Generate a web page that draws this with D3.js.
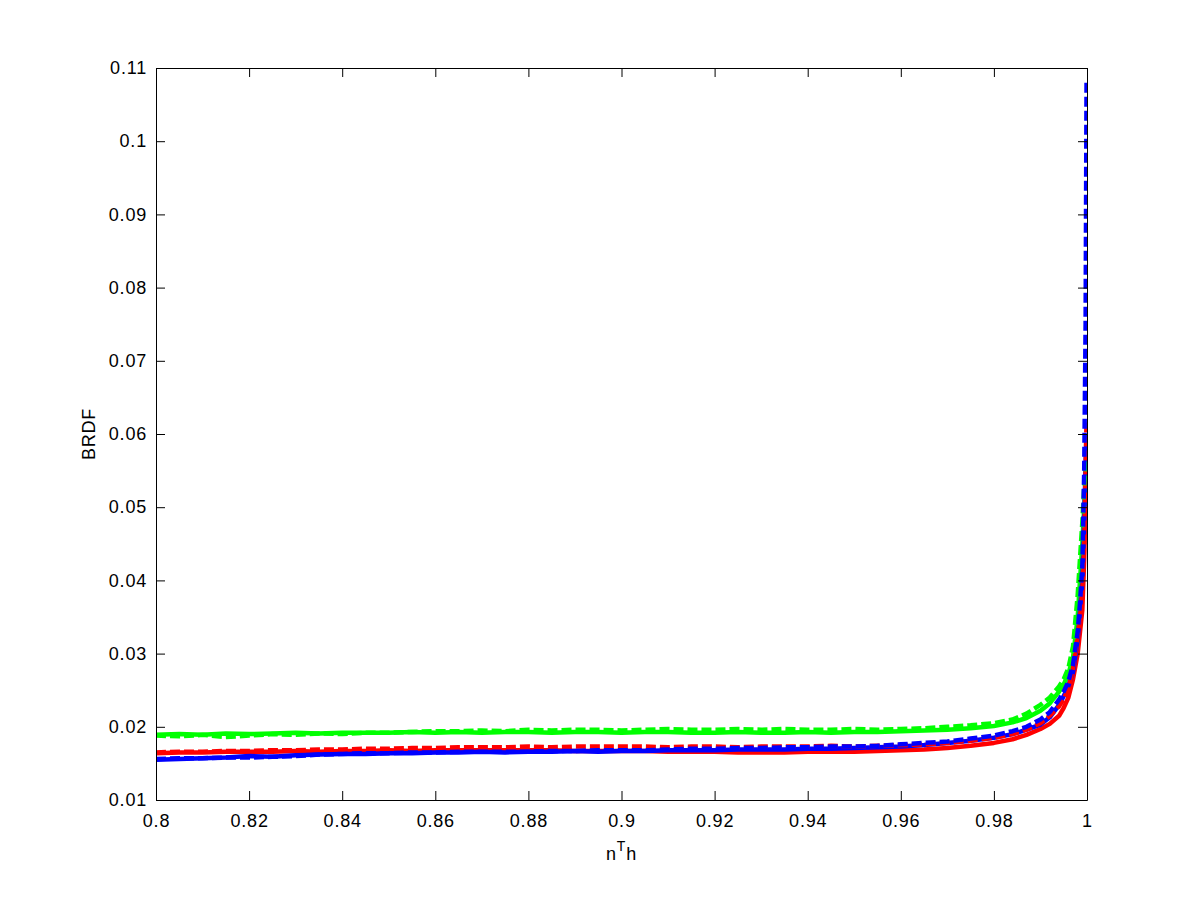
<!DOCTYPE html>
<html>
<head>
<meta charset="utf-8">
<script src="https://cdn.jsdelivr.net/npm/d3@7"></script>
<style>
  html, body { margin: 0; padding: 0; background: #fff; }
  svg { display: block; }
  text { font-family: "Liberation Sans", Arial, sans-serif; fill: #000; }
</style>
</head>
<body>
<svg id="chart" width="1200" height="900"></svg>
<script>
// ---- data ----
const xValues = [
  0.800, 0.805, 0.810, 0.815, 0.820, 0.825, 0.830, 0.835, 0.840, 0.845,
  0.850, 0.855, 0.860, 0.865, 0.870, 0.875, 0.880, 0.885, 0.890, 0.895,
  0.900, 0.905, 0.910, 0.915, 0.920, 0.925, 0.930, 0.935, 0.940, 0.945,
  0.950, 0.955, 0.960,
  0.965, 0.970, 0.975, 0.980, 0.984, 0.987, 0.990, 0.992, 0.994, 0.995,
  0.996, 0.997, 0.998, 0.9985, 0.999, 0.9994, 0.9997, 0.9999
];
const greenSolid = [
  0.0189, 0.0190, 0.0189, 0.0191, 0.0190, 0.0191, 0.0192, 0.0191, 0.0192, 0.0192,
  0.0192, 0.0193, 0.0192, 0.0193, 0.0192, 0.0193, 0.0193, 0.0192, 0.0193, 0.0193,
  0.0192, 0.0193, 0.0193, 0.0192, 0.0192, 0.0193, 0.0192, 0.0192, 0.0193, 0.0192,
  0.0193, 0.0193, 0.0194,
  0.0195, 0.0196, 0.0198, 0.0201, 0.0206, 0.0212, 0.0222, 0.0232, 0.0248, 0.0258,
  0.0272, 0.0295, 0.0350, 0.0400, 0.0450, 0.0500, 0.0530, 0.0540
];
const greenDashed = [
  0.0188, 0.0187, 0.0189, 0.0186, 0.0188, 0.0190, 0.0189, 0.0191, 0.0190, 0.0192,
  0.0192, 0.0193, 0.0194, 0.0194, 0.0195, 0.0194, 0.0196, 0.0195, 0.0196, 0.0196,
  0.0195, 0.0196, 0.0197, 0.0196, 0.0196, 0.0197, 0.0196, 0.0197, 0.0196, 0.0196,
  0.0197, 0.0196, 0.0197,
  0.0198, 0.0200, 0.0202, 0.0205, 0.0210, 0.0218, 0.0230, 0.0240, 0.0255, 0.0265,
  0.0280, 0.0310, 0.0380, 0.0430, 0.0480, 0.0530, 0.0555, 0.0565
];
const redSolid = [
  0.0164, 0.0165, 0.0165, 0.0166, 0.0166, 0.0166, 0.0167, 0.0166, 0.0167, 0.0167,
  0.0168, 0.0167, 0.0168, 0.0168, 0.0168, 0.0168, 0.0168, 0.0168, 0.0167, 0.0167,
  0.0167, 0.0167, 0.0166, 0.0166, 0.0166, 0.0165, 0.0165, 0.0165, 0.0166, 0.0166,
  0.0166, 0.0167, 0.0168,
  0.0169, 0.0171, 0.0174, 0.0178, 0.0183, 0.0189, 0.0197, 0.0204, 0.0215, 0.0226,
  0.0240, 0.0265, 0.0300, 0.0330, 0.0360, 0.0430, 0.0520, 0.0590
];
const redDashed = [
  0.0165, 0.0166, 0.0166, 0.0167, 0.0167, 0.0168, 0.0168, 0.0169, 0.0169, 0.0170,
  0.0170, 0.0171, 0.0171, 0.0172, 0.0172, 0.0172, 0.0173, 0.0172, 0.0173, 0.0173,
  0.0173, 0.0173, 0.0172, 0.0173, 0.0173, 0.0172, 0.0173, 0.0173, 0.0173, 0.0174,
  0.0173, 0.0174, 0.0175,
  0.0176, 0.0178, 0.0181, 0.0185, 0.0190, 0.0196, 0.0205, 0.0215, 0.0228, 0.0238,
  0.0252, 0.0280, 0.0325, 0.0350, 0.0385, 0.0450, 0.0550, 0.0620
];
const blueSolid = [
  0.0155, 0.0156, 0.0157, 0.0158, 0.0160, 0.0159, 0.0161, 0.0162, 0.0163, 0.0163,
  0.0164, 0.0164, 0.0165, 0.0165, 0.0166, 0.0165, 0.0166, 0.0166, 0.0167, 0.0166,
  0.0167, 0.0167, 0.0168, 0.0168, 0.0168, 0.0169, 0.0169, 0.0169, 0.0170, 0.0170,
  0.0171, 0.0172, 0.0173,
  0.0175, 0.0178, 0.0181, 0.0185, 0.0190, 0.0196, 0.0203, 0.0213, 0.0230, 0.0242,
  0.0256, 0.0275, 0.0320, 0.0360, 0.0400, 0.0480, 0.0560, 0.0600
];
const blueDashed = [
  0.0156, 0.0157, 0.0157, 0.0158, 0.0158, 0.0159, 0.0160, 0.0162, 0.0163, 0.0164,
  0.0164, 0.0165, 0.0165, 0.0166, 0.0166, 0.0166, 0.0166, 0.0167, 0.0167, 0.0168,
  0.0168, 0.0168, 0.0169, 0.0170, 0.0170, 0.0171, 0.0171, 0.0172, 0.0172, 0.0173,
  0.0173, 0.0174, 0.0176,
  0.0178, 0.0180, 0.0184, 0.0188, 0.0194, 0.0200, 0.0210, 0.0220, 0.0237, 0.0248,
  0.0262, 0.0285, 0.0330, 0.0370, 0.0420, 0.0550, 0.0750, 0.1080
];
const xTicks = [0.8, 0.82, 0.84, 0.86, 0.88, 0.9, 0.92, 0.94, 0.96, 0.98, 1];
const yTicks = [0.01, 0.02, 0.03, 0.04, 0.05, 0.06, 0.07, 0.08, 0.09, 0.1, 0.11];

// ---- layout ----
const mLeft = 156, mRight = 1087, mTop = 68, mBottom = 800;
const svg = d3.select("#chart");
const x = d3.scaleLinear().domain([0.8, 1]).range([mLeft, mRight]);
const y = d3.scaleLinear().domain([0.01, 0.11]).range([mBottom, mTop]);

const series = [
  { values: redSolid,    color: "#ff0000", dash: null },
  { values: greenSolid,  color: "#00ff00", dash: null },
  { values: blueSolid,   color: "#0000ff", dash: null },
  { values: redDashed,   color: "#ff0000", dash: "10,4" },
  { values: greenDashed, color: "#00ff00", dash: "10,4" },
  { values: blueDashed,  color: "#0000ff", dash: "10,4" }
];

const line = d3.line().x(d => x(d[0])).y(d => y(d[1]));
const plot = svg.append("g");
plot.append("defs").append("clipPath").attr("id", "clip")
  .append("rect").attr("x", mLeft).attr("y", mTop - 2).attr("width", mRight - mLeft).attr("height", mBottom - mTop + 2);

const lines = plot.append("g").attr("clip-path", "url(#clip)");
series.forEach(s => {
  lines.append("path")
    .datum(xValues.map((xv, i) => [xv, s.values[i]]))
    .attr("d", line)
    .attr("fill", "none")
    .attr("stroke", s.color)
    .attr("stroke-width", 4.5)
    .attr("stroke-linejoin", "round")
    .attr("stroke-dasharray", s.dash);
});

// axes (ticks inward)
const fmt = d => String(+d.toFixed(2));
const xAxisB = d3.axisBottom(x).tickValues(xTicks).tickSizeInner(-9).tickSizeOuter(0).tickPadding(14).tickFormat(fmt);
const xAxisT = d3.axisTop(x).tickValues(xTicks).tickSizeInner(-9).tickSizeOuter(0).tickFormat("");
const yAxisL = d3.axisLeft(y).tickValues(yTicks).tickSizeInner(-9).tickSizeOuter(0).tickPadding(9).tickFormat(fmt);
const yAxisR = d3.axisRight(y).tickValues(yTicks).tickSizeInner(-9).tickSizeOuter(0).tickFormat("");

function style(g) {
  g.select(".domain").attr("stroke", "#000").attr("stroke-width", 1);
  g.selectAll(".tick line").attr("stroke", "#000").attr("stroke-width", 1);
  g.selectAll(".tick text").attr("font-size", 18).attr("letter-spacing", "0.8px")
    .attr("font-family", "'Liberation Sans', Arial, sans-serif").attr("fill", "#000");
}
svg.append("g").attr("transform", `translate(0,${mBottom})`).call(xAxisB).call(style);
svg.append("g").attr("transform", `translate(0,${mTop})`).call(xAxisT).call(style);
svg.append("g").attr("transform", `translate(${mLeft},0)`).call(yAxisL).call(style);
svg.append("g").attr("transform", `translate(${mRight},0)`).call(yAxisR).call(style);

// axis labels
const xl = svg.append("text")
  .attr("x", (mLeft + mRight) / 2).attr("y", 860)
  .attr("text-anchor", "middle").attr("font-size", 18).attr("letter-spacing", "0.8px");
xl.append("tspan").text("n");
xl.append("tspan").attr("dy", -9).attr("font-size", 14).text("T");
xl.append("tspan").attr("dy", 9).text("h");

svg.append("text")
  .attr("transform", `translate(95,${(mTop + mBottom) / 2}) rotate(-90)`)
  .attr("text-anchor", "middle").attr("font-size", 18).attr("letter-spacing", "0.8px")
  .text("BRDF");
</script>
</body>
</html>
